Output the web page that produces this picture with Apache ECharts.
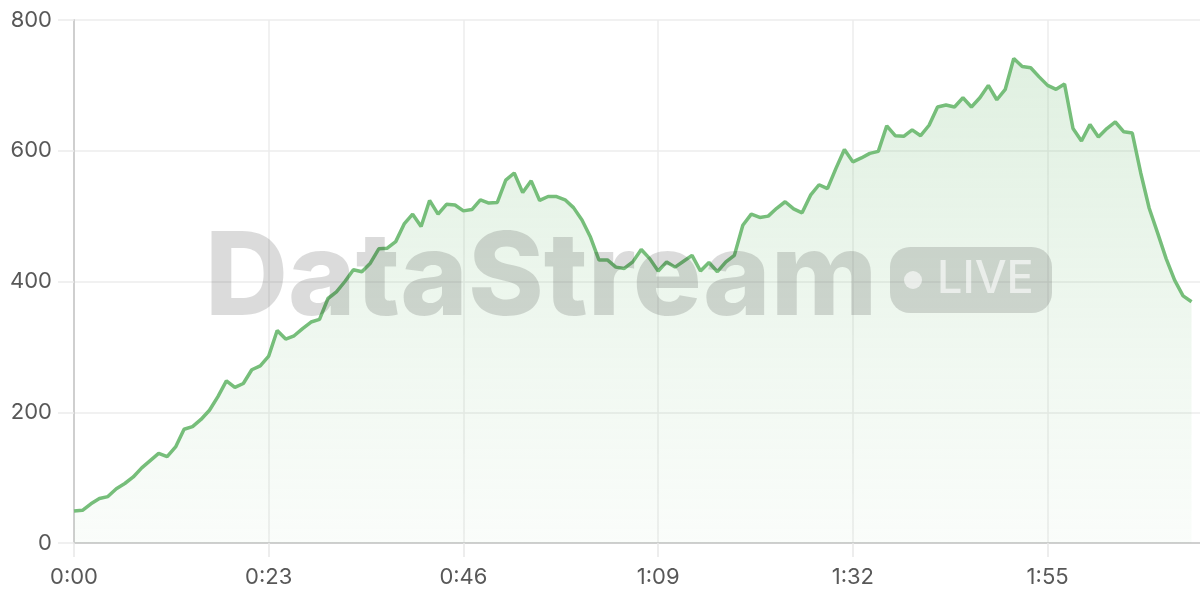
<!DOCTYPE html>
<html>
<head>
<meta charset="utf-8">
<script src="https://cdn.jsdelivr.net/npm/echarts@6/dist/echarts.min.js"></script>
<style>
html,body{margin:0;padding:0;background:#fff;}
#chart{width:1200px;height:600px;}
</style>
</head>
<body>
<div id="chart"></div>
<script>
// seconds on the x axis (0..133), one sample per second
const seconds = [];
for (let s = 0; s <= 133; s++) seconds.push(s);

const tickLabels = ['0:00', '0:23', '0:46', '1:09', '1:32', '1:55'];

const values = [
  49, 50, 60, 68, 71, 83, 91, 101, 115, 126,
  137, 132, 147, 174, 178, 189, 203, 224, 248, 238,
  244, 265, 271, 286, 325, 312, 317, 328, 338, 342,
  374, 384, 400, 418, 415, 428, 450, 451, 461, 488,
  503, 484, 524, 503, 518, 517, 508, 510, 525, 520,
  521, 555, 566, 536, 554, 524, 530, 530, 525, 513,
  494, 468, 433, 433, 422, 420, 430, 449, 435, 416,
  430, 422, 431, 440, 416, 429, 415, 430, 440, 486,
  503, 498, 500, 512, 522, 511, 505, 532, 548, 542,
  573, 602, 583, 589, 596, 599, 638, 623, 622, 632,
  623, 639, 667, 670, 667, 681, 667, 681, 700, 678,
  694, 741, 729, 727, 713, 700, 694, 702, 634, 615,
  640, 621, 634, 644, 629, 627, 566, 512, 474, 435,
  402, 378, 369
];

const chart = echarts.init(document.getElementById('chart'));
const labelFont = { color: '#585858', fontSize: 22, fontFamily: 'Inter' };
chart.setOption({
  animation: false,
  grid: { left: 74, right: 0, top: 20, bottom: 57 },
  xAxis: {
    type: 'category',
    boundaryGap: false,
    data: seconds,
    axisLine: { show: true, lineStyle: { color: '#cfcfcf', width: 2 } },
    axisTick: { show: true, interval: 22, length: 14, lineStyle: { color: '#e8e8e8', width: 1.5 } },
    splitLine: { show: true, interval: 22, lineStyle: { color: '#ececec', width: 1.5 } },
    axisLabel: Object.assign({
      interval: 22,
      margin: 23,
      formatter: function (v, idx) { return tickLabels[Math.round(idx / 23)] || ''; }
    }, labelFont)
  },
  yAxis: {
    type: 'value',
    min: 0, max: 800, interval: 200,
    axisLine: { show: true, lineStyle: { color: '#cfcfcf', width: 2 } },
    axisTick: { show: true, length: 16, lineStyle: { color: '#ececec', width: 1.5 } },
    splitLine: { show: true, lineStyle: { color: '#ececec', width: 1.5 } },
    axisLabel: Object.assign({ margin: 22 }, labelFont)
  },
  series: [{
    type: 'line',
    data: values,
    symbol: 'none',
    smooth: false,
    lineStyle: { color: '#76be7a', width: 3.5 },
    areaStyle: {
      color: new echarts.graphic.LinearGradient(0, 0, 0, 1, [
        { offset: 0, color: 'rgba(118,190,122,0.32)' },
        { offset: 1, color: 'rgba(118,190,122,0.05)' }
      ])
    }
  }],
  graphic: [
    {
      type: 'text', left: 205, top: 223, z: 100, silent: true,
      style: { text: 'DataStream', fontFamily: 'Inter', fontWeight: 800, fontSize: 115, fill: 'rgba(0,0,0,0.14)' }
    },
    {
      type: 'rect', z: 100, silent: true,
      shape: { x: 890, y: 247, width: 162, height: 66, r: 20 },
      style: { fill: 'rgba(0,0,0,0.14)' }
    },
    {
      type: 'circle', z: 101, silent: true,
      shape: { cx: 913, cy: 280, r: 9 },
      style: { fill: 'rgba(255,255,255,0.6)' }
    },
    {
      type: 'text', z: 101, silent: true, left: 937, top: 257,
      style: { text: 'LIVE', fontFamily: 'Inter', fontWeight: 500, fontSize: 45, fill: 'rgba(255,255,255,0.6)' }
    }
  ]
});
</script>
</body>
</html>
